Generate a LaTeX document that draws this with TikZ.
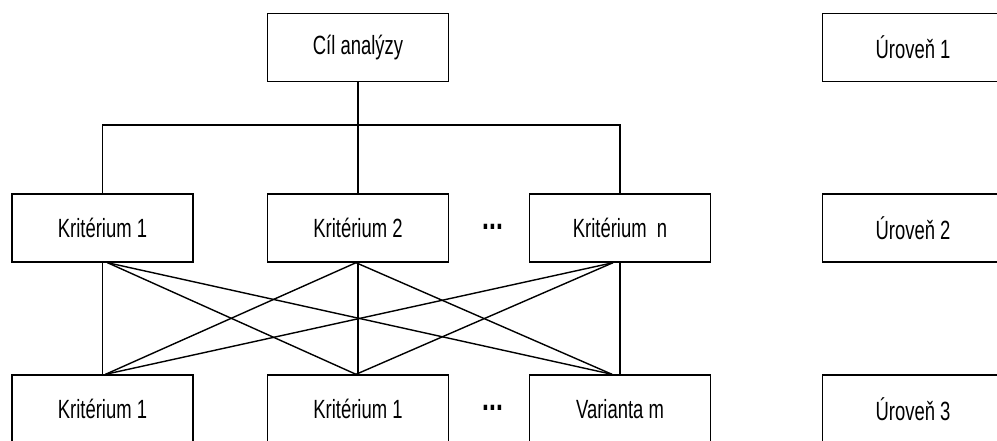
\documentclass[tikz,border=0pt]{standalone}
\usepackage{fontspec}
\setmainfont{Liberation Sans}[FakeStretch=0.7]
\usepackage{tikz}

\begin{document}
\begin{tikzpicture}
			[x=0.02cm,y=-0.02cm,every node/.style={draw,line width=0.8pt,minimum width=3.62cm,minimum height=1.36cm,font=\fontsize{15}{17}\selectfont}]
				\useasboundingbox (0,0) rectangle (997,440);
				\clip (0,0) rectangle (997,440);
				\node (cil) at (358,47.5) {Cíl analýzy};
				\node (k1) at (102.5,228) {Kritérium 1};
				\node (k2) at (358,228) {Kritérium 2};
				\node (kn) at (620,228) {Kritérium~~n};
				\node (v1) at (102.5,409) {Kritérium 1};
				\node (v2) at (358,409) {Kritérium 1};
				\node (vm) at (620,409) {Varianta m};
				\node (u1) at (913,47.5) {Úroveň 1};
				\node (u2) at (913,228) {Úroveň 2};
				\node (u3) at (913,409) {Úroveň 3};
				\node [draw=none,minimum size=0pt,font=\fontsize{20}{20}\selectfont](t1) at (493,227) {\textbf{...}}; %tečky mezi kritérii
				\node [draw=none,minimum size=0pt,font=\fontsize{20}{20}\selectfont](t2) at (493,408) {\textbf{...}};
				\coordinate (h) at (358,125);
				\coordinate (k1b) at ([xshift=0.1cm]k1.south);
				\coordinate (k2b) at ([xshift=-0.04cm]k2.south);
				\coordinate (knb) at ([xshift=-0.14cm]kn.south);
				\coordinate (v1t) at ([xshift=0.06cm]v1.north);
				\coordinate (v2t) at ([xshift=-0.04cm]v2.north);
				\coordinate (vmt) at ([xshift=-0.16cm]vm.north);
				\draw[line width=0.8pt] (cil) -- (h) -- (k2);
				\draw[line width=0.8pt] (k1.north) |- (h) -| (kn.north);
				\foreach \from/\to in {k1/v1,k2/v2,kn/vm}
				\draw[line width=0.8pt] (\from.south) -- (\to.north);
				\foreach \from/\to in {k1b/v2t,k1b/vmt,k2b/v1t,k2b/vmt,knb/v1t,knb/v2t}
				\draw[line width=0.8pt] (\from) -- (\to);
			\end{tikzpicture}
\end{document}
